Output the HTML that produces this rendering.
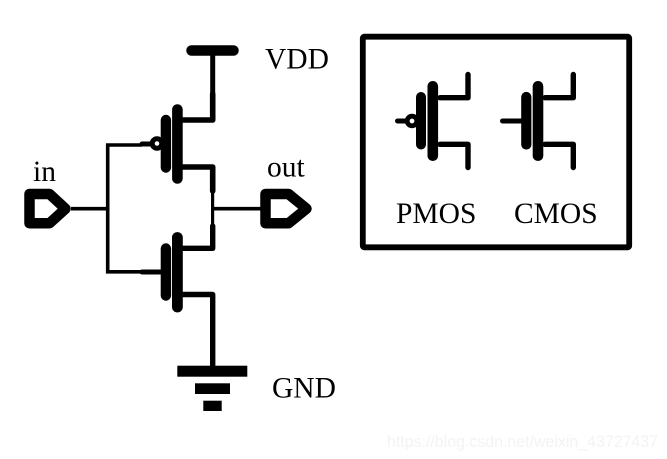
<!DOCTYPE html>
<html>
<head>
<meta charset="utf-8">
<style>
html,body{margin:0;padding:0;background:#fff;width:667px;height:459px;overflow:hidden}
svg{display:block}
text{font-family:"Liberation Serif",serif;font-size:29.5px;fill:#000}
</style>
</head>
<body>
<svg width="667" height="459" viewBox="0 0 667 459" xmlns="http://www.w3.org/2000/svg">
<g fill="none" stroke="#000" stroke-linecap="round" stroke-linejoin="round">
  <!-- VDD -->
  <path d="M191.5 50.5H233.5" stroke-width="10.5"/>
  <path d="M212.7 50V93" stroke-width="5" stroke-linecap="butt"/>
  <path d="M212.7 94V120H180" stroke-width="5.6"/>
  <!-- PMOS -->
  <path d="M177.4 109.5V178.5" stroke-width="10.6"/>
  <path d="M165.9 120V167.5" stroke-width="10.4"/>
  <path d="M180 167H212.7V191" stroke-width="5.6"/>
  <path d="M212.6 191V225" stroke-width="3.2" stroke-linecap="butt"/>
  <circle cx="157" cy="143.5" r="4.8" stroke-width="5" fill="#fff"/>
  <path d="M142 144H151" stroke-width="5"/>
  <!-- input wiring -->
  <path d="M142 145H107.7V271.8H141" stroke-width="3.6" stroke-linecap="butt" stroke-linejoin="miter"/>
  <path d="M71 208.7H107" stroke-width="3.6" stroke-linecap="butt"/>
  <path d="M213 208.7H262" stroke-width="3.6" stroke-linecap="butt"/>
  <!-- NMOS -->
  <path d="M177.4 237.5V307" stroke-width="10.8"/>
  <path d="M165.9 248.5V295.5" stroke-width="10.4"/>
  <path d="M142 272H161" stroke-width="5"/>
  <path d="M212.7 226V248.3H180" stroke-width="5.4"/>
  <path d="M180 294.5H212.7V366" stroke-width="5.4"/>
  <!-- Ports -->
  <path d="M29.5 194H49.5L65.5 208.7L49.5 223.3H29.5Z" stroke-width="10.5"/>
  <path d="M265.5 194H288.5L306.5 208.7L288.5 223.3H265.5Z" stroke-width="10.5"/>
  <!-- Legend box -->
  <rect x="362.8" y="36.7" width="266.4" height="210.6" rx="1.5" stroke-width="5.8" stroke-linejoin="round"/>
  <!-- Legend PMOS -->
  <path d="M432.8 86.3V155.7" stroke-width="10.6"/>
  <path d="M421 97V144.5" stroke-width="10"/>
  <path d="M440 97.7H468V74.5" stroke-width="5.4"/>
  <path d="M440 144.3H468V167.5" stroke-width="5.4"/>
  <circle cx="412" cy="121" r="4.8" stroke-width="4.8" fill="#fff"/>
  <path d="M397.5 121H406" stroke-width="5"/>
  <!-- Legend CMOS -->
  <path d="M538 86.3V155.7" stroke-width="10.6"/>
  <path d="M526.3 97V144.5" stroke-width="10.2"/>
  <path d="M545 97.7H573.3V74.5" stroke-width="5.4"/>
  <path d="M545 144.3H573.3V167.5" stroke-width="5.4"/>
  <path d="M502.5 121H522" stroke-width="5"/>
</g>
<!-- GND -->
<rect x="177.3" y="365.7" width="70" height="11" fill="#000"/>
<rect x="195" y="383.3" width="35" height="10.7" fill="#000"/>
<rect x="203.3" y="400.7" width="18.4" height="10.3" fill="#000"/>
<!-- Labels -->
<text x="265" y="68.5">VDD</text>
<text x="267" y="176.5">out</text>
<text x="33" y="181">in</text>
<text x="272" y="397.5">GND</text>
<text x="396" y="223">PMOS</text>
<text x="514" y="223">CMOS</text>
<text x="387" y="447" textLength="271" lengthAdjust="spacingAndGlyphs" style="font-family:'Liberation Sans',sans-serif;font-size:17px;fill:#f3f3f3">https://blog.csdn.net/weixin_43727437</text>
</svg>
</body>
</html>
